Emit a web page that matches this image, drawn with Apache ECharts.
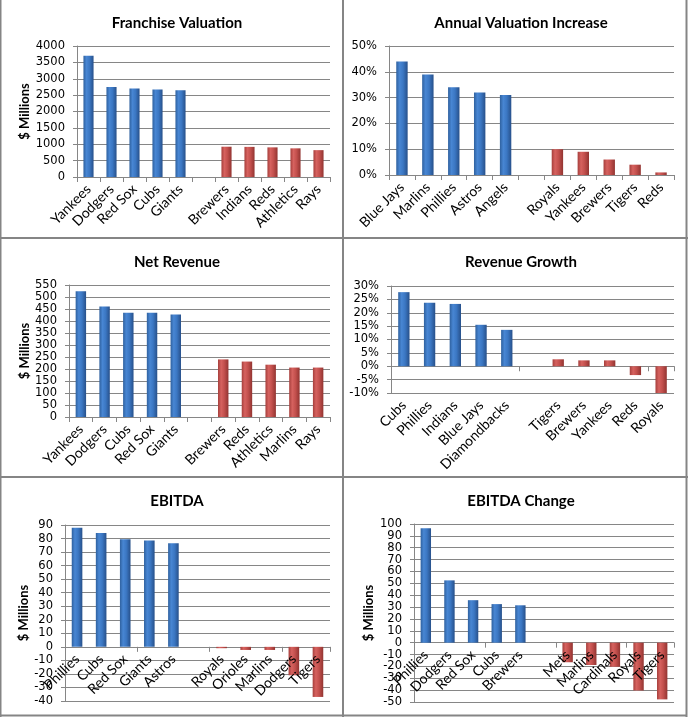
<!DOCTYPE html>
<html>
<head>
<meta charset="utf-8">
<script src="https://cdn.jsdelivr.net/npm/echarts@6/dist/echarts.min.js"></script>
<style>
html,body{margin:0;padding:0;background:#fff;}
#c{width:688px;height:717px;}
</style>
</head>
<body>
<div id="c"></div>
<script>
// ---- DATA ----
const valuationTitle = 'Franchise Valuation';
const valuationCats = ['Yankees','Dodgers','Red Sox','Cubs','Giants','','Brewers','Indians','Reds','Athletics','Rays'];
const valuationTop = [3700, 2750, 2700, 2675, 2650];
const valuationBottom = [925, 920, 905, 875, 820];

const increaseTitle = 'Annual Valuation Increase';
const increaseCats = ['Blue Jays','Marlins','Phillies','Astros','Angels','','Royals','Yankees','Brewers','Tigers','Reds'];
const increaseTop = [44, 39, 34, 32, 31];
const increaseBottom = [10, 9, 6, 4, 1];

const revenueTitle = 'Net Revenue';
const revenueCats = ['Yankees','Dodgers','Cubs','Red Sox','Giants','','Brewers','Reds','Athletics','Marlins','Rays'];
const revenueTop = [524, 460, 434, 434, 427];
const revenueBottom = [240, 231, 218, 206, 206];

const growthTitle = 'Revenue Growth';
const growthCats = ['Cubs','Phillies','Indians','Blue Jays','Diamondbacks','','Tigers','Brewers','Yankees','Reds','Royals'];
const growthTop = [27.7, 23.7, 23.3, 15.5, 13.6];
const growthBottom = [2.6, 2.2, 2.2, -3.3, -10];

const ebitdaTitle = 'EBITDA';
const ebitdaCats = ['Phillies','Cubs','Red Sox','Giants','Astros','','Royals','Orioles','Marlins','Dodgers','Tigers'];
const ebitdaTop = [88, 84, 79.5, 78.5, 76.5];
const ebitdaBottom = [-1, -2.3, -2.3, -21, -37];

const changeTitle = 'EBITDA Change';
const changeCats = ['Phillies','Dodgers','Red Sox','Cubs','Brewers','','Mets','Marlins','Cardinals','Royals','Tigers'];
const changeTop = [96.5, 52.5, 35.8, 32.5, 31.5];
const changeBottom = [-16.5, -18.8, -20.3, -40.3, -47.8];

const yTicks = {
  valuation: {min: 0, max: 4000, interval: 500},
  increase: {min: 0, max: 50, interval: 10},
  revenue: {min: 0, max: 550, interval: 50},
  growth: {min: -10, max: 30, interval: 5},
  ebitda: {min: -40, max: 90, interval: 10},
  change: {min: -50, max: 100, interval: 10}
};

// ---- STYLE / LAYOUT ----
const W = 688, H = 717;
const blueGrad = new echarts.graphic.LinearGradient(0,0,1,0,[
  {offset:0,color:'#2f619f'},{offset:0.3,color:'#4886d3'},{offset:0.6,color:'#3b77c3'},{offset:1,color:'#27508a'}]);
const redGrad = new echarts.graphic.LinearGradient(0,0,1,0,[
  {offset:0,color:'#a63f3c'},{offset:0.3,color:'#d6625f'},{offset:0.6,color:'#c3504d'},{offset:1,color:'#923431'}]);
const axisGray = '#868686';

// labelMode: 'zero' = labels next to the zero line, 'low' = labels at the bottom
const panels = [
  {title: valuationTitle, cats: valuationCats, top: valuationTop, bot: valuationBottom, y: yTicks.valuation, pct:false, name:true,
   grid:{left:77, top:46, width:253, height:131}, tx:172, ty:11, nameGap:46},
  {title: increaseTitle, cats: increaseCats, top: increaseTop, bot: increaseBottom, y: yTicks.increase, pct:true, name:false,
   grid:{left:389, top:46, width:285, height:129}, tx:516, ty:11},
  {title: revenueTitle, cats: revenueCats, top: revenueTop, bot: revenueBottom, y: yTicks.revenue, pct:false, name:true,
   grid:{left:69, top:285, width:261, height:132}, tx:172, ty:250, nameGap:38},
  {title: growthTitle, cats: growthCats, top: growthTop, bot: growthBottom, y: yTicks.growth, pct:true, name:false, labelMode:'low',
   grid:{left:391, top:286, width:283, height:107}, tx:516, ty:250},
  {title: ebitdaTitle, cats: ebitdaCats, top: ebitdaTop, bot: ebitdaBottom, y: yTicks.ebitda, pct:false, name:true, labelMode:'zero',
   grid:{left:65, top:525, width:265, height:176}, tx:172, ty:489, nameGap:34},
  {title: changeTitle, cats: changeCats, top: changeTop, bot: changeBottom, y: yTicks.change, pct:false, name:true, labelMode:'zero',
   grid:{left:414, top:524, width:260, height:178}, tx:516, ty:489, nameGap:39}
];

const option = {animation:false, title:[], grid:[], xAxis:[], yAxis:[], series:[], graphic:[]};
const catFont = {fontFamily:'Lato', fontSize:14, color:'#000'};

panels.forEach((p, i) => {
  option.title.push({text:p.title, left:p.tx, top:p.ty, textAlign:'center',
    textStyle:{fontFamily:'Lato', fontWeight:'bold', fontSize:15, color:'#000'}});
  option.grid.push(Object.assign({containLabel:false}, p.grid));
  const split = !!p.labelMode;
  const zeroOff = p.labelMode === 'zero' ? p.grid.height * (0 - p.y.min) / (p.y.max - p.y.min) : 0;
  const xi = option.xAxis.length;
  option.xAxis.push({
    type:'category', gridIndex:i, data:p.cats, position:'bottom', offset: -zeroOff, z:10,
    axisLine:{show:!split, onZero:false, lineStyle:{color:axisGray}},
    axisTick:{show:!split, length:5, lineStyle:{color:axisGray}},
    axisLabel:Object.assign({rotate:45, margin:10, interval:0}, catFont),
    splitLine:{show:false}
  });
  if (split) {
    option.xAxis.push({
      type:'category', gridIndex:i, data:p.cats, position:'bottom',
      axisLine:{show:true, onZero:true, lineStyle:{color:axisGray}},
      axisTick:{show:true, length:5, lineStyle:{color:axisGray}},
      axisLabel:{show:false}, splitLine:{show:false}
    });
  }
  option.yAxis.push({
    type:'value', gridIndex:i, min:p.y.min, max:p.y.max, interval:p.y.interval,
    name: p.name ? '$ Millions' : '', nameLocation:'middle', nameRotate:90, nameGap:p.nameGap || 30,
    nameTextStyle:{fontFamily:'Lato', fontWeight:'bold', fontSize:13, color:'#000'},
    axisLine:{show:true, lineStyle:{color:axisGray}},
    axisTick:{show:true, length:4, lineStyle:{color:axisGray}},
    axisLabel:{fontFamily:'DejaVu Sans', fontSize:11.5, color:'#000', margin:12,
      showMinLabel:true, showMaxLabel:true, hideOverlap:false,
      formatter: v => String(v) + (p.pct ? '%' : '')},
    splitLine:{show:true, lineStyle:{color:axisGray, width:1}}
  });
  const topData = p.cats.map((c, k) => k < p.top.length ? p.top[k] : null);
  const botData = p.cats.map((c, k) => k > p.top.length ? p.bot[k - p.top.length - 1] : null);
  option.series.push({type:'bar', xAxisIndex:xi, yAxisIndex:i, data:topData, barWidth:'44%', barGap:'-100%',
    itemStyle:{color:blueGrad}});
  option.series.push({type:'bar', xAxisIndex:xi, yAxisIndex:i, data:botData, barWidth:'44%', barGap:'-100%',
    itemStyle:{color:redGrad}});
});

// panel borders
const bc = '#858585';
[[0.5,0,0.5,H],[343,0,343,H],[686.5,0,686.5,H],[0,238,W,238],[0,477,W,477],[0,715.5,687,715.5]].forEach(l => {
  option.graphic.push({type:'line', shape:{x1:l[0],y1:l[1],x2:l[2],y2:l[3]}, style:{stroke:bc, lineWidth:2}, z:100});
});

const chart = echarts.init(document.getElementById('c'), null, {renderer:'canvas'});
chart.setOption(option);
</script>
</body>
</html>
